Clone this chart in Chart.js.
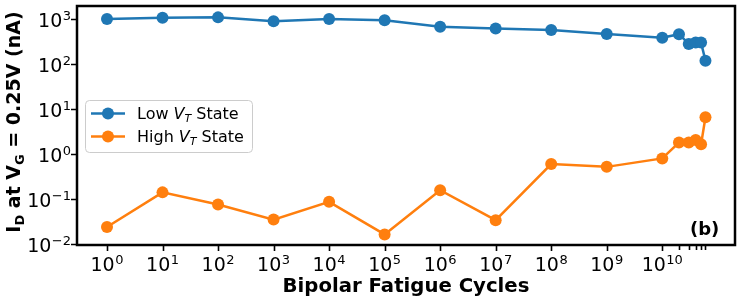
<!DOCTYPE html>
<html>
<head>
<meta charset="utf-8">
<script src="https://cdn.jsdelivr.net/npm/chart.js@4.4.1/dist/chart.umd.min.js"></script>
<style>
  html, body { margin: 0; padding: 0; background: #fff; }
  #wrap { width: 747px; height: 301px; }
</style>
</head>
<body>
<div id="wrap"><canvas id="chart" width="747" height="301"></canvas></div>
<script>
// ===== data =====
const cycles = [1, 1e1, 1e2, 1e3, 1e4, 1e5, 1e6, 1e7, 1e8, 1e9, 1e10, 2e10, 3e10, 4e10, 5e10, 6e10];
const lowVt = [1000, 1070, 1090, 890, 1000, 935, 675, 620, 570, 465, 385, 460, 280, 300, 300, 118];
const highVt = [0.024, 0.141, 0.076, 0.035, 0.087, 0.0164, 0.158, 0.034, 0.60, 0.52, 0.80, 1.8, 1.8, 2.05, 1.65, 6.6];
const xTickExps = [0, 1, 2, 3, 4, 5, 6, 7, 8, 9, 10];
const xMinorTicks = [2e10, 3e10, 4e10, 5e10, 6e10];
const yTickExps = [-2, -1, 0, 1, 2, 3];

const BLUE = '#1f77b4';
const ORANGE = '#ff7f0e';
const FONT = '"DejaVu Sans"';

// 10^n label, base + raised exponent
function drawPow(ctx, exp, x, baseline, align) {
  const sup = exp < 0 ? '\u2212' + (-exp) : String(exp);
  ctx.font = `19px ${FONT}`;
  const wb = ctx.measureText('10').width;
  ctx.font = `13px ${FONT}`;
  const ws = ctx.measureText(sup).width;
  const w = wb + ws + 0.5;
  const x0 = align === 'right' ? x - w : x - w / 2;
  ctx.textAlign = 'left';
  ctx.textBaseline = 'alphabetic';
  ctx.font = `19px ${FONT}`;
  ctx.fillText('10', x0, baseline);
  ctx.font = `13px ${FONT}`;
  ctx.fillText(sup, x0 + wb + 0.5, baseline - 7);
}

// draws pieces [text, font, dy] in a row starting at x
function drawPieces(ctx, pieces, x, y) {
  pieces.forEach(([t, f, dy]) => {
    ctx.font = f;
    ctx.fillText(t, x, y + (dy || 0));
    x += ctx.measureText(t).width;
  });
  return x;
}
function piecesWidth(ctx, pieces) {
  return pieces.reduce((s, [t, f]) => { ctx.font = f; return s + ctx.measureText(t).width; }, 0);
}

const decorations = {
  id: 'decorations',
  afterDraw(chart) {
    const ctx = chart.ctx;
    const { left, right, top, bottom } = chart.chartArea;
    const xs = chart.scales.x, ys = chart.scales.y;
    ctx.save();
    ctx.fillStyle = '#000';
    ctx.strokeStyle = '#000';

    // tick marks
    ctx.lineWidth = 1.6;
    ctx.beginPath();
    xTickExps.forEach(e => {
      const px = Math.round(xs.getPixelForValue(Math.pow(10, e))) + 0.5;
      ctx.moveTo(px, bottom); ctx.lineTo(px, bottom + 6);
    });
    xMinorTicks.forEach(v => {
      const px = Math.round(xs.getPixelForValue(v)) + 0.5;
      ctx.moveTo(px, bottom); ctx.lineTo(px, bottom + 5);
    });
    yTickExps.forEach(e => {
      const py = Math.round(ys.getPixelForValue(Math.pow(10, e))) + 0.5;
      ctx.moveTo(left, py); ctx.lineTo(left - 6, py);
    });
    ctx.stroke();

    // frame
    ctx.lineWidth = 2.5;
    ctx.strokeRect(left, top, right - left, bottom - top);

    // tick labels
    xTickExps.forEach(e => drawPow(ctx, e, xs.getPixelForValue(Math.pow(10, e)), 271, 'center'));
    yTickExps.forEach(e => drawPow(ctx, e, 71, ys.getPixelForValue(Math.pow(10, e)) + 7.5, 'right'));

    // x title
    ctx.font = `bold 19.7px ${FONT}`;
    ctx.textAlign = 'center';
    ctx.fillText('Bipolar Fatigue Cycles', (left + right) / 2, 292);

    // y title (rotated)
    ctx.textAlign = 'left';
    const B = `bold 19px ${FONT}`, S = `bold 13px ${FONT}`;
    const yTitle = [['I', B], ['D', S, 4], [' at V', B], ['G', S, 4], [' = 0.25V (nA)', B]];
    const L = piecesWidth(ctx, yTitle);
    ctx.save();
    ctx.translate(20, 122);
    ctx.rotate(-Math.PI / 2);
    drawPieces(ctx, yTitle, -L / 2, 0);
    ctx.restore();

    // (b)
    ctx.font = `bold 18px ${FONT}`;
    ctx.fillText('(b)', 690, 234.5);

    // legend
    const lx = 85, ly = 100, lw = 167, lh = 52;
    ctx.beginPath();
    ctx.roundRect(lx + 0.5, ly + 0.5, lw, lh, 4);
    ctx.fillStyle = 'rgba(255,255,255,0.8)';
    ctx.fill();
    ctx.lineWidth = 1;
    ctx.strokeStyle = '#cccccc';
    ctx.stroke();
    const N = `16px ${FONT}`, I = `oblique 16px ${FONT}`, IS = `oblique 11px ${FONT}`;
    [[BLUE, 'Low ', 113.5], [ORANGE, 'High ', 136.5]].forEach(([col, word, cy]) => {
      ctx.strokeStyle = col;
      ctx.fillStyle = col;
      ctx.lineWidth = 2.5;
      ctx.beginPath();
      ctx.moveTo(91, cy); ctx.lineTo(125, cy);
      ctx.stroke();
      ctx.beginPath();
      ctx.arc(108, cy, 6, 0, Math.PI * 2);
      ctx.fill();
      ctx.fillStyle = '#000';
      drawPieces(ctx, [[word, N], ['V', I], ['T', IS, 3], [' State', N]], 137, cy + 5.8);
    });
    ctx.restore();
  }
};

new Chart(document.getElementById('chart'), {
  type: 'line',
  data: {
    datasets: [
      {
        label: 'Low VT State',
        data: cycles.map((c, i) => ({ x: c, y: lowVt[i] })),
        borderColor: BLUE, backgroundColor: BLUE,
        borderWidth: 2.5, pointRadius: 6, pointHoverRadius: 6, pointBorderWidth: 0,
        tension: 0
      },
      {
        label: 'High VT State',
        data: cycles.map((c, i) => ({ x: c, y: highVt[i] })),
        borderColor: ORANGE, backgroundColor: ORANGE,
        borderWidth: 2.5, pointRadius: 6, pointHoverRadius: 6, pointBorderWidth: 0,
        tension: 0
      }
    ]
  },
  options: {
    responsive: false,
    animation: false,
    devicePixelRatio: 1,
    layout: { padding: { left: 77, right: 12, top: 6, bottom: 56 } },
    plugins: { legend: { display: false }, tooltip: { enabled: false } },
    scales: {
      x: { type: 'logarithmic', display: false, min: Math.pow(10, -0.54), max: Math.pow(10, 11.31) },
      y: { type: 'logarithmic', display: false, min: Math.pow(10, -2.02), max: Math.pow(10, 3.29) }
    }
  },
  plugins: [decorations]
});
</script>
</body>
</html>
